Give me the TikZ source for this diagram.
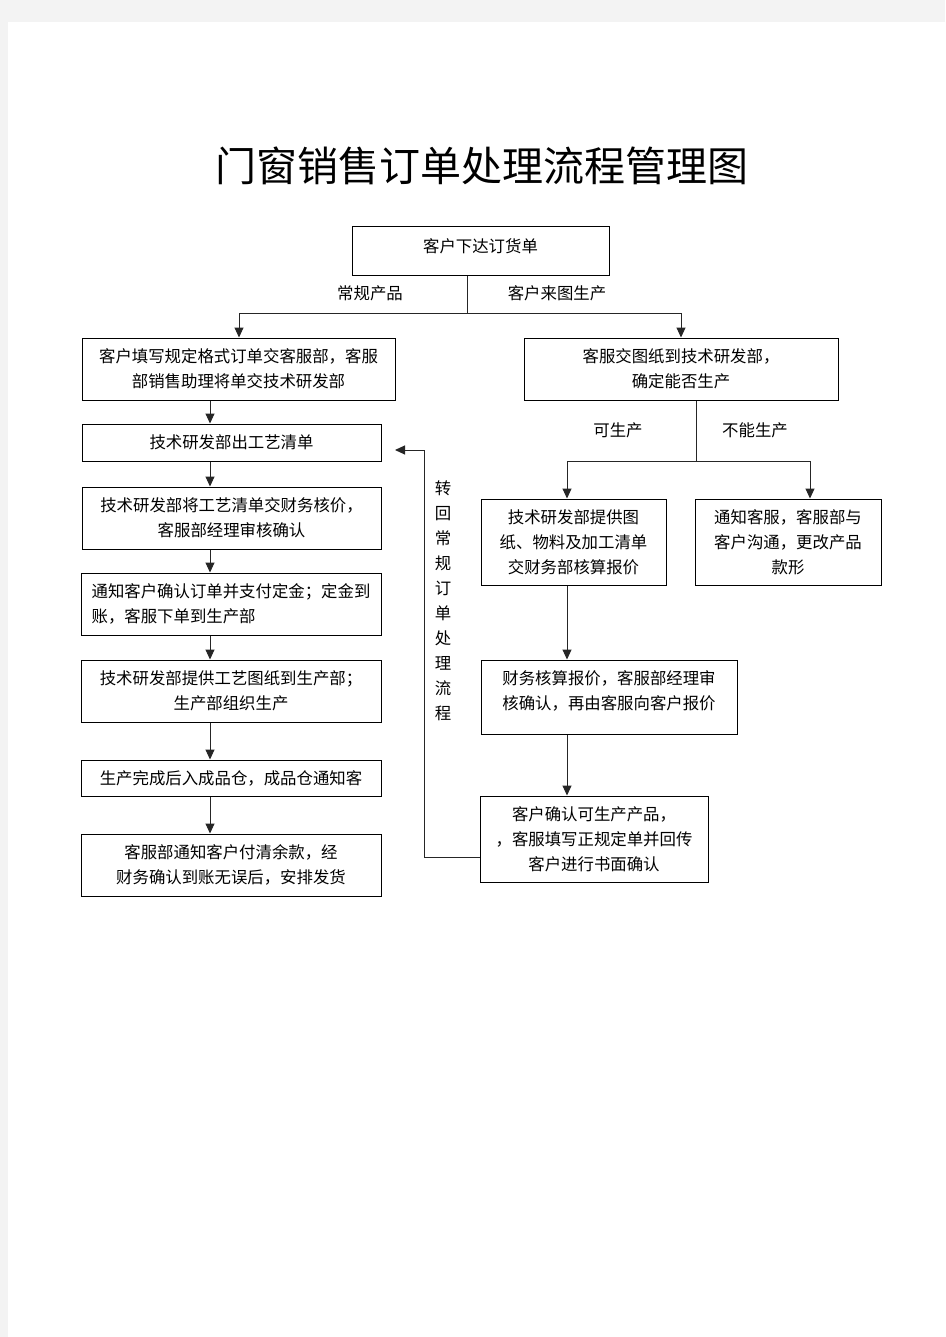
\documentclass[tikz,border=0pt]{standalone}
\usepackage{fontspec}
\setmainfont{Noto Sans CJK SC}
\usetikzlibrary{arrows.meta}
\definecolor{pagebg}{HTML}{F3F3F3}
\tikzset{
  box/.style={draw=black, line width=1pt, fill=white, inner sep=0pt, align=center,
    font=\fontsize{16.4}{25}\selectfont},
  conn/.style={draw=black!85, line width=1pt},
  arr/.style={conn, -{Triangle[length=10pt,width=9pt]}},
  lbl/.style={inner sep=0pt, font=\fontsize{16.4}{25}\selectfont},
}
\begin{document}
\begin{tikzpicture}[x=1pt,y=-1pt]
\useasboundingbox (0,0) rectangle (945,1337);
\fill[pagebg] (0,0) rectangle (945,1337);
\fill[white] (8,22) rectangle (945,1337);

\node[inner sep=0pt, font=\fontsize{41}{44}\selectfont] (title) at (482,166) {门窗销售订单处理流程管理图};

% top
\node[box, minimum width=257pt, minimum height=49pt] (A) at (480.5,251.5) {客户下达订货单\\[-13pt]};
\node[box, minimum width=313pt, minimum height=62pt] (B1) at (238.5,369) {客户填写规定格式订单交客服部，客服\\部销售助理将单交技术研发部};
\node[box, minimum width=314pt, minimum height=62pt] (B2) at (681,369) {客服交图纸到技术研发部，\\确定能否生产};
\node[lbl] (lab1) at (370,293) {常规产品};
\node[lbl] (lab2) at (557,293) {客户来图生产};

% left column
\node[box, minimum width=299pt, minimum height=37pt] (L1) at (231.5,442.5) {技术研发部出工艺清单};
\node[box, minimum width=299pt, minimum height=62pt] (L2) at (231.5,518) {技术研发部将工艺清单交财务核价，\\客服部经理审核确认};
\node[box, minimum width=300pt, minimum height=62pt, align=left] (L3) at (231,604) {通知客户确认订单并支付定金；定金到\\账，客服下单到生产部};
\node[box, minimum width=300pt, minimum height=62pt] (L4) at (231,691) {技术研发部提供工艺图纸到生产部；\\生产部组织生产};
\node[box, minimum width=300pt, minimum height=36pt] (L5) at (231,778) {生产完成后入成品仓，成品仓通知客};
\node[box, minimum width=300pt, minimum height=62pt] (L6) at (231,865) {客服部通知客户付清余款，经\\财务确认到账无误后，安排发货};

% right column
\node[box, minimum width=185pt, minimum height=86pt] (R1) at (573.5,542) {技术研发部提供图\\纸、物料及加工清单\\交财务部核算报价};
\node[box, minimum width=186pt, minimum height=86pt] (R2) at (788,542) {通知客服，客服部与\\客户沟通，更改产品\\款形};
\node[box, minimum width=256pt, minimum height=74pt] (R3) at (609,697) {财务核算报价，客服部经理审\\核确认，再由客服向客户报价\\[-11pt]};
\node[box, minimum width=228pt, minimum height=86pt] (R4) at (594,839) {客户确认可生产产品，\\，客服填写正规定单并回传\\客户进行书面确认};
\node[lbl] (lab3) at (618,430) {可生产};
\node[lbl] (lab4) at (755,430) {不能生产};

\node[lbl, align=center] (back) at (443,600.5) {转\\回\\常\\规\\订\\单\\处\\理\\流\\程};

% junctions
\coordinate (j1) at (467,313);
\coordinate (j2) at (696,461);
\coordinate (fb) at (424,857);
\coordinate (fbt) at (424,450);
\coordinate (fbend) at (395,450);

\draw[conn] (j1 |- A.south) -- (j1);
\draw[arr] (j1) -| ([xshift=0.5pt]B1.north);
\draw[arr] (j1) -| (B2.north);

\draw[arr] ([xshift=-28.5pt]B1.south) -- ([xshift=-21.5pt]L1.north);
\draw[arr] ([xshift=-21.5pt]L1.south) -- ([xshift=-21.5pt]L2.north);
\draw[arr] ([xshift=-21.5pt]L2.south) -- ([xshift=-21pt]L3.north);
\draw[arr] ([xshift=-21pt]L3.south) -- ([xshift=-21pt]L4.north);
\draw[arr] ([xshift=-21pt]L4.south) -- ([xshift=-21pt]L5.north);
\draw[arr] ([xshift=-21pt]L5.south) -- ([xshift=-21pt]L6.north);

\draw[conn] (j2 |- B2.south) -- (j2);
\draw[arr] (j2) -| ([xshift=-6.5pt]R1.north);
\draw[arr] (j2) -| ([xshift=22pt]R2.north);

\draw[arr] ([xshift=-6.5pt]R1.south) -- ([xshift=-42pt]R3.north);
\draw[arr] ([xshift=-42pt]R3.south) -- ([xshift=-27pt]R4.north);

\draw[arr] (R4.west |- fb) -- (fb) -- (fbt) -- (fbend);
\end{tikzpicture}
\end{document}
